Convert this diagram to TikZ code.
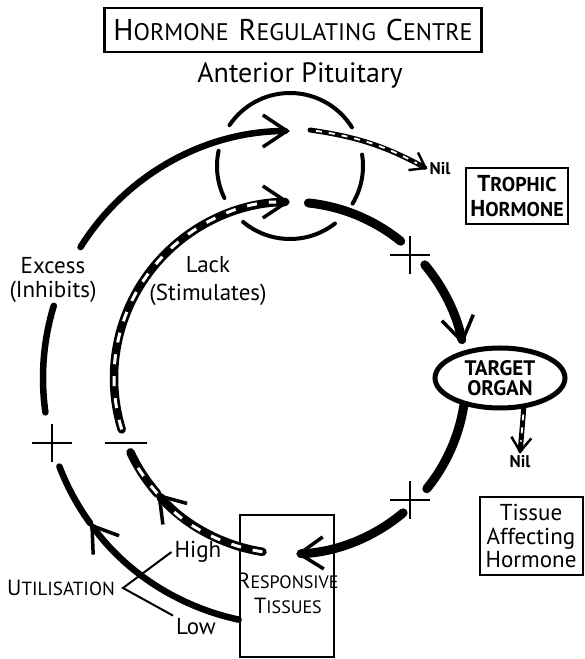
\documentclass[tikz,border=0pt]{standalone}
\usepackage{fontspec}
\setmainfont{PT Sans}
\usetikzlibrary{arrows.meta, shapes.geometric, positioning}

\newcommand{\fsz}[1]{\fontsize{#1}{#1}\selectfont}
\newcommand{\sccap}[3]{#2{\fontsize{#1}{#1}\selectfont #3}}

\begin{document}
\begin{tikzpicture}[
  x=1pt, y=1pt,
  line cap=round,
  barb/.style={-{Straight Barb[length=24pt, width=32pt, line width=3.5pt]}},
  small barb/.style={-{Straight Barb[length=14pt, width=20pt, line width=2.5pt]}},
  excess line/.style={line width=6.5pt},
  hormone line/.style={line width=9pt},
  lack line/.style={line width=8.5pt,
    postaction={draw=white, -, line width=3pt, line cap=butt,
                dash pattern=on 10pt off 12pt, shorten >=14pt}},
  nil line/.style={line width=5pt,
    postaction={draw=white, -, line width=1.8pt, line cap=butt,
                dash pattern=on 6pt off 7pt, shorten <=6pt, shorten >=12pt}},
  gland arc/.style={line width=4pt},
  signbar/.style={line width=2.5pt, line cap=butt},
  tag box/.style={rectangle, draw, line width=2pt, align=center, inner sep=2pt},
  tag/.style={align=center, inner sep=3pt},
]
\fill[white] (0,0) rectangle (585,659);
\useasboundingbox (0,0) rectangle (585,659);

% centres of the loop and of the gland
\coordinate (ctr) at (290,281);
\coordinate (pit) at (290,493);

% Headings
\node[tag box, line width=2.5pt, minimum width=377pt, minimum height=44pt, font=\fsz{30}] (centre) at (293,629)
  {\sccap{24}{H}{ORMONE}\hspace{10pt}\sccap{24}{R}{EGULATING}\hspace{10pt}\sccap{24}{C}{ENTRE}};
\node[tag, font=\fsz{28}] (ant) at (300,584) {Anterior Pituitary};

% Boxes and organ
\node[tag box, line width=2.5pt, minimum width=102pt, minimum height=56pt, inner sep=1pt,
      font=\bfseries\fontsize{23}{25}\selectfont] (trophic) at (517,463)
  {\sccap{20}{T}{ROPHIC}\\\sccap{20}{H}{ORMONE}};
\node[ellipse, draw, line width=5pt, minimum width=130pt, minimum height=60pt, inner sep=0pt,
      align=center, font=\bfseries\fontsize{21}{20}\selectfont] (target) at (500,281) {TARGET\\ORGAN};
\node[tag box, minimum width=103pt, minimum height=78pt, font=\fontsize{23}{23.5}\selectfont] (affect) at (531,123)
  {Tissue\\Affecting\\Hormone};
\node[tag box, minimum width=94pt, minimum height=142pt] (resp) at (287,73) {};
\node[tag, font=\fontsize{22}{25}\selectfont] (resptext) at (288,66)
  {\sccap{18}{R}{ESPONSIVE}\\\sccap{18}{T}{ISSUES}};

% Side labels
\node[tag, font=\fontsize{23}{24}\selectfont] (excess) at (53,379) {Excess\\(Inhibits)};
\node[tag, font=\fontsize{23}{28}\selectfont] (lack) at (208,378) {Lack\\(Stimulates)};
\node[tag, font=\fsz{22}] (util) at (61,71) {\sccap{19}{U}{TILISATION}};
\node[tag, font=\fsz{23}] (high) at (198,107) {High};
\node[tag, font=\fsz{23}] (low) at (196,32) {Low};
\coordinate (fork) at ([xshift=5pt]util.east);
\draw[line width=2pt, line cap=butt] (high.west) -- (fork) -- (low.north west);

% Nil outlets
\node[font=\bfseries\fsz{17}, inner sep=2pt] (nil1) at (440,490) {Nil};
\node[font=\bfseries\fsz{17}, inner sep=2pt] (nil2) at (520,197) {Nil};
\coordinate (release) at (310,529);
\draw[nil line, small barb] (release) to[bend left=10] (nil1.west);
\draw[nil line, small barb] (target.-52) -- (nil2.north);

% Anterior pituitary (broken ring)
\foreach \a/\b in {32/146, 168/206, 230/308, -31/9}
  \draw[gland arc] ([shift={(\a:73)}]pit) arc[start angle=\a, end angle=\b, radius=73pt];

% Excess: outer ring back to the gland
\draw[excess line, barb] ([shift={(258:247)}]ctr) arc[start angle=258, end angle=216, radius=247pt];
\draw[excess line] ([shift={(216:247)}]ctr) arc[start angle=216, end angle=201, radius=247pt];
\draw[excess line] ([shift={(188:247)}]ctr) arc[start angle=188, end angle=163, radius=247pt];
\draw[excess line, barb] ([shift={(148:247)}]ctr) arc[start angle=148, end angle=90, radius=247pt];

% Lack: inner ring, left half
\draw[lack line, barb] ([shift={(261:176)}]ctr) arc[start angle=261, end angle=221, radius=176pt];
\draw[lack line] ([shift={(221:176)}]ctr) arc[start angle=221, end angle=205, radius=176pt];
\draw[lack line, barb] ([shift={(197:176)}]ctr) arc[start angle=197, end angle=90, radius=176pt];

% Hormone flow: inner ring, right half
\draw[hormone line] ([shift={(84:176)}]ctr) arc[start angle=84, end angle=51, radius=176pt];
\draw[hormone line, barb] ([shift={(40:176)}]ctr) arc[start angle=40, end angle=11, radius=176pt];
\draw[hormone line] ([shift={(-9:176)}]ctr) arc[start angle=-9, end angle=-39, radius=176pt];
\draw[hormone line, barb] ([shift={(-50:176)}]ctr) arc[start angle=-50, end angle=-88, radius=176pt];

% Signs
\coordinate (plusA) at (410,404);
\coordinate (plusB) at (410,159);
\coordinate (plusC) at (52,216);
\coordinate (minus) at (126,216);
\foreach \p in {plusA, plusB, plusC}
  \draw[signbar] ([xshift=-20pt]\p) -- ([xshift=20pt]\p) ([yshift=-19pt]\p) -- ([yshift=19pt]\p);
\draw[signbar] ([xshift=-21pt]minus) -- ([xshift=21pt]minus);

\end{tikzpicture}
\end{document}
